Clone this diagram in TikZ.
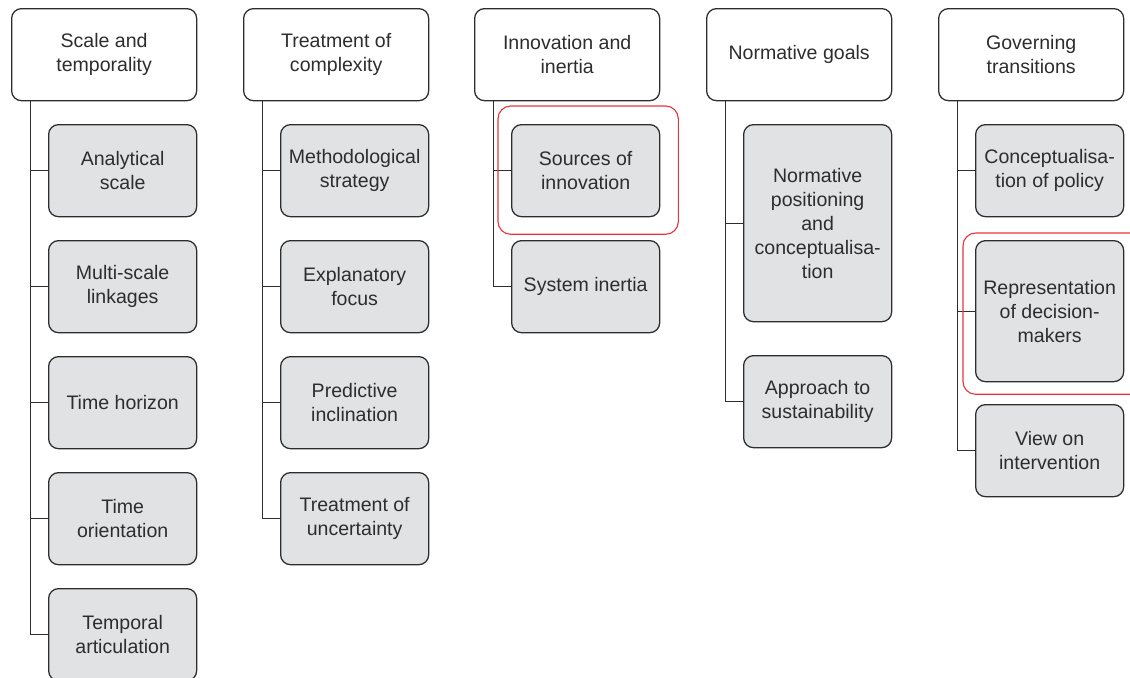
\documentclass[tikz,border=0pt]{standalone}
\usepackage{fontspec}
\setmainfont{Liberation Sans}
\usetikzlibrary{positioning}
\definecolor{boxgray}{RGB}{225,226,228}
\definecolor{inkgray}{RGB}{45,45,45}
\definecolor{hired}{RGB}{232,52,62}
\tikzset{head/.style={draw=inkgray, rounded corners=7pt, line width=0.9pt, minimum width=4.625cm, minimum height=2.3cm, inner xsep=2pt, align=center, anchor=north west, text=inkgray, font=\fontsize{13.9}{17.1}\selectfont}}
\tikzset{item/.style={head, fill=boxgray, minimum width=3.7cm}}
\tikzset{link/.style={draw=inkgray, line width=0.7pt}}
\tikzset{hilite/.style={draw=hired, rounded corners=9pt, line width=0.8pt}}

\begin{document}
\begin{tikzpicture}[x=0.025cm, y=-0.025cm]
    \useasboundingbox (0,0) rectangle (1130,677);
    \clip (0,0) rectangle (1130,677);

    \node[head] (scale) at (11,8) {Scale and\\temporality};
    \node[head] (compl) at (243,8) {Treatment of\\complexity};
    \node[head] (innov) at (474,8) {Innovation and\\inertia};
    \node[head] (norm) at (706,8) {Normative goals};
    \node[head] (gov) at (938,8) {Governing\\transitions};

    \node[item] (anal) at (48,124) {Analytical\\scale};
    \node[item] (multi) at (48,240) {Multi-scale\\linkages};
    \node[item] (horiz) at (48,356) {Time horizon};
    \node[item] (orient) at (48,472) {Time\\orientation};
    \node[item] (artic) at (48,588) {Temporal\\articulation};

    \node[item] (method) at (280,124) {Methodological\\strategy};
    \node[item] (expl) at (280,240) {Explanatory\\focus};
    \node[item] (pred) at (280,356) {Predictive\\inclination};
    \node[item] (uncert) at (280,472) {Treatment of\\uncertainty};

    \node[item] (src) at (511,124) {Sources of\\innovation};
    \node[item] (inert) at (511,240) {System inertia};

    \node[item, minimum height=4.925cm] (posit) at (743,124) {Normative\\positioning\\and\\conceptualisa-\\tion};
    \node[item] (sust) at (743,355) {Approach to\\sustainability};

    \node[item] (policy) at (975,124) {Conceptualisa-\\tion of policy};
    \node[item, minimum height=3.525cm] (repr) at (975,240) {Representation\\of decision-\\makers};
    \node[item] (interv) at (975,404) {View on\\intervention};

    \coordinate (sp1) at (30,100);
    \coordinate (sp2) at (262,100);
    \coordinate (sp3) at (493,100);
    \coordinate (sp4) at (725,100);
    \coordinate (sp5) at (957,100);

    \draw[link] (sp1) |- (anal.west) (sp1) |- (multi.west) (sp1) |- (horiz.west) (sp1) |- (orient.west) (sp1) |- (artic.west);
    \draw[link] (sp2) |- (method.west) (sp2) |- (expl.west) (sp2) |- (pred.west) (sp2) |- (uncert.west);
    \draw[link] (sp3) |- (src.west) (sp3) |- (inert.west);
    \draw[link] (sp4) |- (posit.west) (sp4) |- (sust.west);
    \draw[link] (sp5) |- (policy.west) (sp5) |- (repr.west) (sp5) |- (interv.west);

    \draw[hilite] ([shift={(-13,-18)}]src.north west) rectangle ([shift={(18,17)}]src.south east);
    \draw[hilite] ([shift={(-12,-7)}]repr.north west) rectangle ([shift={(25,12)}]repr.south east);
\end{tikzpicture}
\end{document}
